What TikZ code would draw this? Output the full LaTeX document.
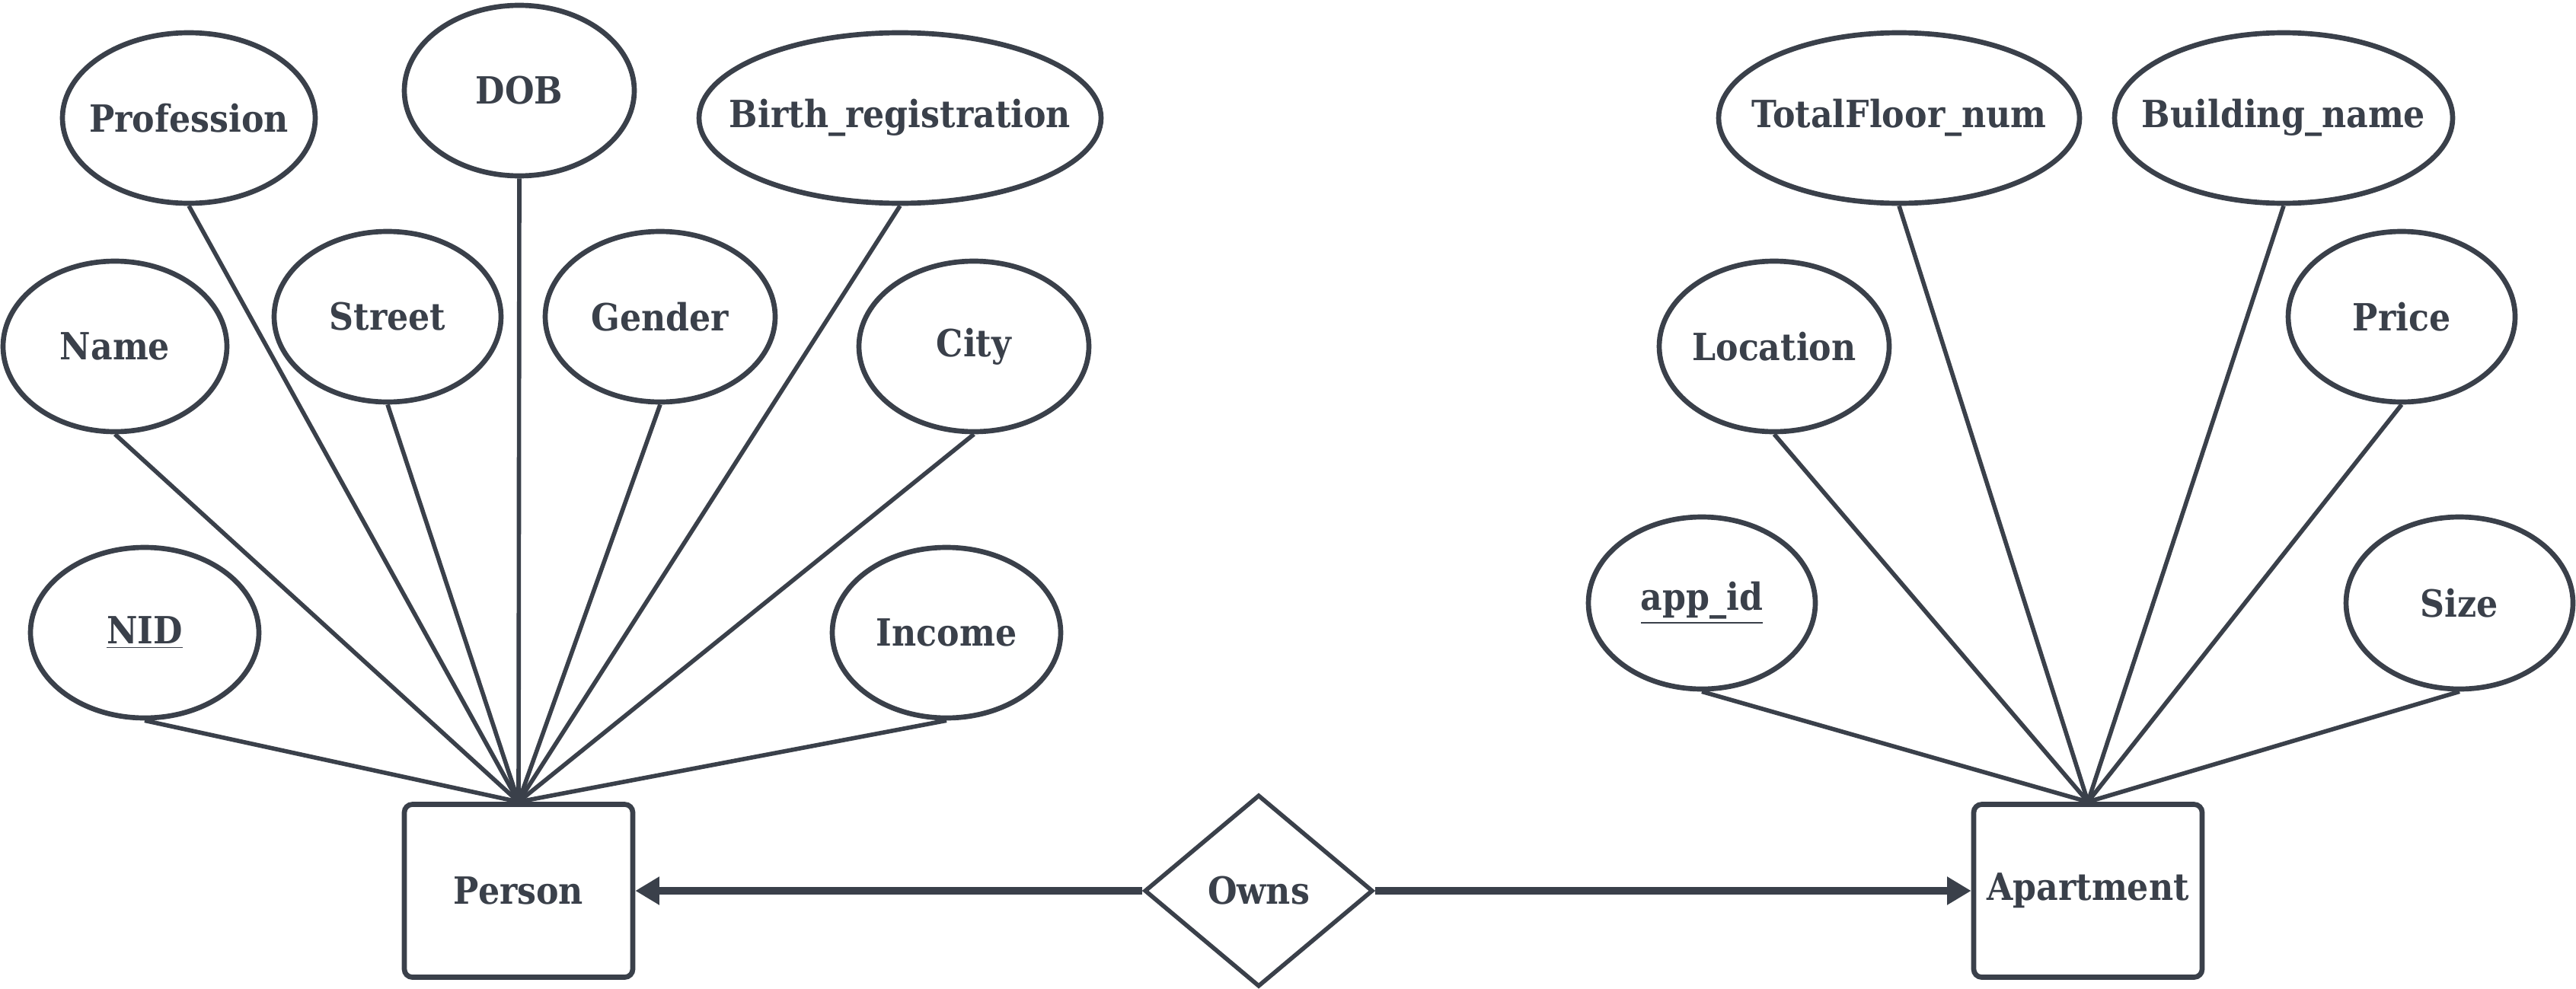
\documentclass[tikz,border=0pt]{standalone}
\usepackage{fontspec}
\setmainfont{DejaVu Serif}[FakeStretch=0.9]
\usetikzlibrary{shapes.geometric,arrows.meta}
\definecolor{erdark}{RGB}{58,64,74}
\begin{document}
\begin{tikzpicture}[
    attr/.style={ellipse,draw=erdark,line width=1.9pt,inner ysep=0pt,inner xsep=-0.6cm,minimum height=2.24cm,
      text=erdark,font=\fontsize{14}{16}\selectfont\bfseries},
    entity/.style={rectangle,rounded corners=3pt,draw=erdark,line width=1.9pt,inner sep=0pt,
      minimum width=3cm,minimum height=2.27cm,text=erdark,font=\fontsize{14}{16}\selectfont\bfseries},
    rel/.style={diamond,draw=erdark,line width=1.6pt,inner sep=0pt,minimum width=3cm,
      minimum height=2.52cm,text=erdark,font=\fontsize{14}{16}\selectfont\bfseries},
    link/.style={erdark,line width=1.6pt},
    owner/.style={erdark,line width=2.6pt,-{Triangle[length=9pt,width=10pt]}}]
     \useasboundingbox (0,0) rectangle (33.83,-12.99);
     \node[entity] (person) at (6.81,-11.70) {Person};
     \node[entity] (apart) at (27.42,-11.70) {Apartment};
     \node[rel] (owns) at (16.53,-11.70) {Owns};
     \node[attr,minimum width=3.32cm] (prof) at (2.48,-1.55) {Profession};
     \node[attr,minimum width=3.02cm] (dob) at (6.82,-1.19) {DOB};
     \node[attr,minimum width=5.28cm] (birth) at (11.82,-1.55) {Birth\_registration};
     \node[attr,minimum width=2.94cm] (name) at (1.51,-4.55) {Name};
     \node[attr,minimum width=2.98cm] (street) at (5.09,-4.16) {Street};
     \node[attr,minimum width=3.02cm] (gender) at (8.67,-4.16) {Gender};
     \node[attr,minimum width=3.02cm] (city) at (12.79,-4.55) {City};
     \node[attr,minimum width=3.0cm] (nid) at (1.90,-8.31) {\underline{NID}};
     \node[attr,minimum width=3.0cm] (income) at (12.43,-8.31) {Income};
     \node[attr,minimum width=4.74cm] (floor) at (24.94,-1.55) {TotalFloor\_num};
     \node[attr,minimum width=4.44cm] (build) at (29.99,-1.55) {Building\_name};
     \node[attr,minimum width=3.02cm] (loc) at (23.30,-4.55) {Location};
     \node[attr,minimum width=2.98cm] (price) at (31.54,-4.16) {Price};
     \node[attr,minimum width=2.98cm,minimum height=2.26cm] (appid) at (22.35,-7.92) {\underline{app\_id}};
     \node[attr,minimum width=2.98cm,minimum height=2.26cm] (size) at (32.30,-7.92) {Size};
     \foreach \a in {prof,dob,birth,name,street,gender,city,nid,income}
       \draw[link] (\a.south) -- (person.north);
     \foreach \a in {floor,build,loc,price,appid,size}
       \draw[link] (\a.south) -- (apart.north);
     \draw[owner] (owns.west) -- (person.east);
     \draw[owner] (owns.east) -- (apart.west);
    \end{tikzpicture}
\end{document}
